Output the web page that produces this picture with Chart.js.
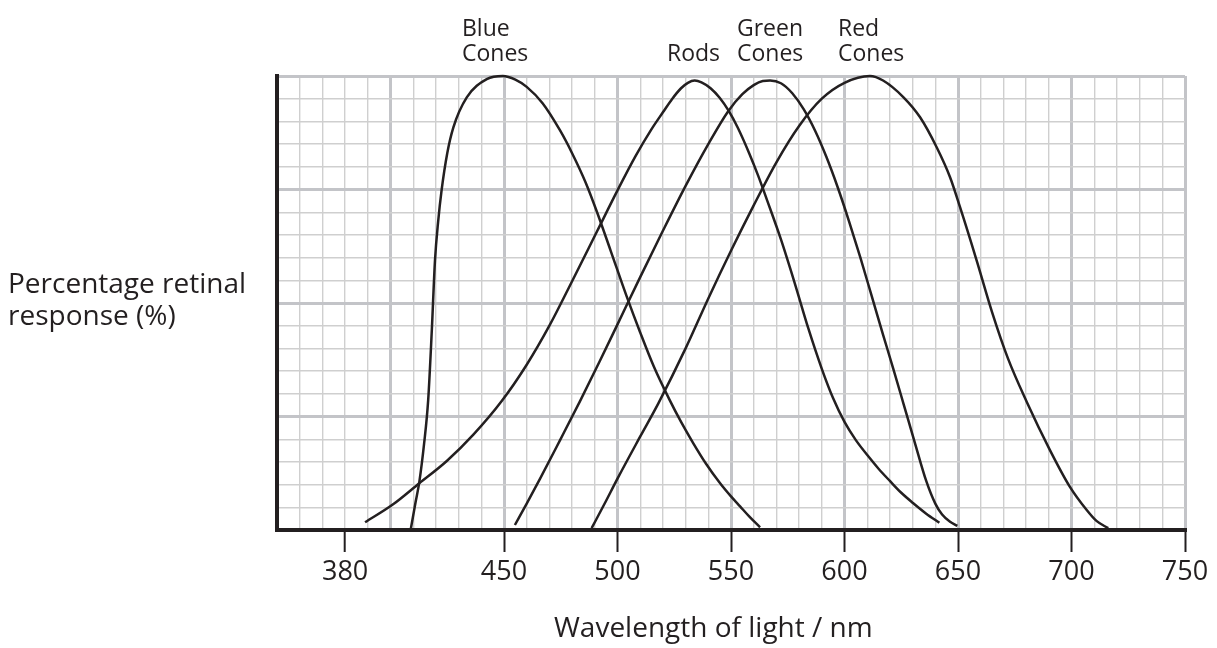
<!DOCTYPE html>
<html>
<head>
<meta charset="utf-8">
<script src="https://cdn.jsdelivr.net/npm/chart.js@4.4.1/dist/chart.umd.min.js"></script>
<style>
  html, body { margin: 0; padding: 0; background: #fff; }
  #wrap { width: 1217px; height: 648px; }
</style>
</head>
<body>
<div id="wrap"><canvas id="chart" width="1217" height="648"></canvas></div>
<script>
// wavelength (nm) and response (%)
const blueX = [409, 411, 412.7, 414.8, 416.6, 418.2, 419.6, 421, 422.5, 425, 427.7, 433.6, 442.4, 449.5, 455, 460, 467, 474.7, 480, 486, 491, 497, 504, 510, 516, 523, 528, 533.4, 539, 545.2, 550, 554, 558, 562.8];
const blueY = [0.4, 6, 10.6, 19, 28.6, 44, 59.4, 68, 74.8, 83, 88.7, 95.3, 99.3, 100, 99.2, 97.6, 94, 88, 83, 76.5, 70, 61.5, 51.5, 43.5, 36, 28.6, 23.8, 19.1, 14.6, 10.3, 7.4, 5.2, 3, 0.6];

const rodsX = [388.8, 401, 412.7, 424.8, 436.5, 449, 460, 470, 480, 491, 500, 508, 515, 520, 524, 528, 531, 534, 537, 541, 545, 549, 553, 558, 562, 566, 572, 578, 584, 590, 595, 600, 605, 611.2, 615, 620, 625, 630.3, 636, 641.8];
const rodsY = [1.7, 5.6, 10.3, 15.2, 21, 28.4, 36.4, 45, 54.8, 65.8, 74.8, 82.4, 88.3, 92, 94.9, 97.3, 98.5, 99, 98.6, 97.3, 95.2, 92.3, 88.6, 83, 78, 72.5, 64, 54.5, 44.5, 35.5, 29, 23.8, 19.8, 15.8, 13.5, 10.8, 8.2, 5.9, 3.6, 1.6];

const greenX = [454.8, 460, 465.9, 474.7, 483.5, 492, 500, 510, 520, 530, 540, 548.7, 555, 560, 564, 567.2, 572, 577, 582, 587, 592, 597, 602, 607, 612, 617, 621.5, 626, 631, 636, 640, 643, 646.5, 649.7];
const greenY = [1.1, 5.8, 11.3, 19.8, 28.4, 37, 45.3, 55.7, 65.9, 75.8, 85, 92.2, 96, 98, 98.9, 99, 98.4, 96.2, 92.7, 88, 82.2, 75.5, 68, 60, 51.5, 43, 35.5, 27.8, 19.2, 10.8, 5.8, 3.4, 1.8, 0.9];

const redX = [488.6, 494, 500.4, 509.9, 518, 530, 540, 550, 560, 570, 580, 590, 600, 611.2, 617, 626, 633.3, 640.6, 646.5, 650.9, 658.2, 665, 672, 680.3, 690.5, 699.3, 706.7, 711, 716.2];
const redY = [0.4, 5.5, 11.7, 20.5, 27.9, 40, 51, 61.5, 71.5, 81, 89, 95, 98.5, 100, 99, 95.3, 90.9, 84.3, 77.7, 71.1, 59.4, 48, 37.8, 28.2, 17.6, 9.5, 4.4, 2, 0.4];

const tickLabels = [380, 450, 500, 550, 600, 650, 700, 750];

const ink = '#231f20';
const majorGrid = '#c3c4c8';
const minorGrid = '#cfcfcf';
const fontFamily = '"Open Sans", "Noto Sans", sans-serif';

// grid every 10 nm and every 5 %
const xGrid = [];
for (let v = 350; v <= 750; v += 10) xGrid.push(v);
const yGrid = [];
for (let v = 0; v <= 100; v += 5) yGrid.push(v);

function toPoints(xs, ys) {
  return xs.map((x, i) => ({ x: x, y: ys[i] }));
}

function curve(xs, ys) {
  return {
    data: toPoints(xs, ys),
    borderColor: ink,
    borderWidth: 2.5,
    pointRadius: 0,
    fill: false,
    clip: false,
    cubicInterpolationMode: 'monotone'
  };
}

// text around the plot
const textPlugin = {
  id: 'texts',
  afterDraw(chart) {
    const ctx = chart.ctx;
    ctx.save();
    ctx.fillStyle = ink;
    ctx.textBaseline = 'alphabetic';
    ctx.textAlign = 'left';

    ctx.font = '23px ' + fontFamily;
    ctx.fillText('Blue', 462, 36);
    ctx.fillText('Cones', 462, 61);
    ctx.fillText('Rods', 667, 61);
    ctx.fillText('Green', 737, 36);
    ctx.fillText('Cones', 737, 61);
    ctx.fillText('Red', 838, 36);
    ctx.fillText('Cones', 838, 61);

    ctx.font = '28px ' + fontFamily;
    ctx.fillText('Percentage retinal', 8, 293);
    ctx.fillText('response (%)', 8, 325);
    ctx.fillText('Wavelength of light / nm', 554, 637);
    ctx.restore();
  }
};

const isMajor = v => v % 50 === 0;

new Chart(document.getElementById('chart'), {
  type: 'line',
  data: {
    datasets: [
      curve(blueX, blueY),
      curve(rodsX, rodsY),
      curve(greenX, greenY),
      curve(redX, redY)
    ]
  },
  options: {
    responsive: false,
    animation: false,
    layout: { padding: { left: 277, right: 32, top: 76, bottom: 0 } },
    plugins: { legend: { display: false }, tooltip: { enabled: false } },
    scales: {
      x: {
        type: 'linear',
        min: 350,
        max: 750,
        afterBuildTicks: s => { s.ticks = xGrid.map(v => ({ value: v })); },
        afterFit: s => { s.height = 118; },
        ticks: {
          autoSkip: false,
          maxRotation: 0,
          padding: 4,
          color: ink,
          font: { family: fontFamily, size: 27 },
          callback: v => tickLabels.includes(v) ? String(v) : ''
        },
        grid: {
          color: c => (c.tick && isMajor(c.tick.value)) ? majorGrid : minorGrid,
          lineWidth: c => (c.tick && isMajor(c.tick.value)) ? 3 : 1.4,
          tickColor: c => (c.tick && tickLabels.includes(c.tick.value)) ? ink : 'rgba(0,0,0,0)',
          tickWidth: 2,
          tickLength: 22
        },
        border: { color: ink, width: 4 }
      },
      y: {
        min: 0,
        max: 100,
        afterBuildTicks: s => { s.ticks = yGrid.map(v => ({ value: v })); },
        afterFit: s => { s.width = 0; },
        ticks: { display: false },
        grid: {
          color: c => (c.tick && c.tick.value % 25 === 0) ? majorGrid : minorGrid,
          lineWidth: c => (c.tick && c.tick.value % 25 === 0) ? 3 : 1.4,
          drawTicks: false
        },
        border: { color: ink, width: 4 }
      }
    }
  },
  plugins: [textPlugin]
});
</script>
</body>
</html>
